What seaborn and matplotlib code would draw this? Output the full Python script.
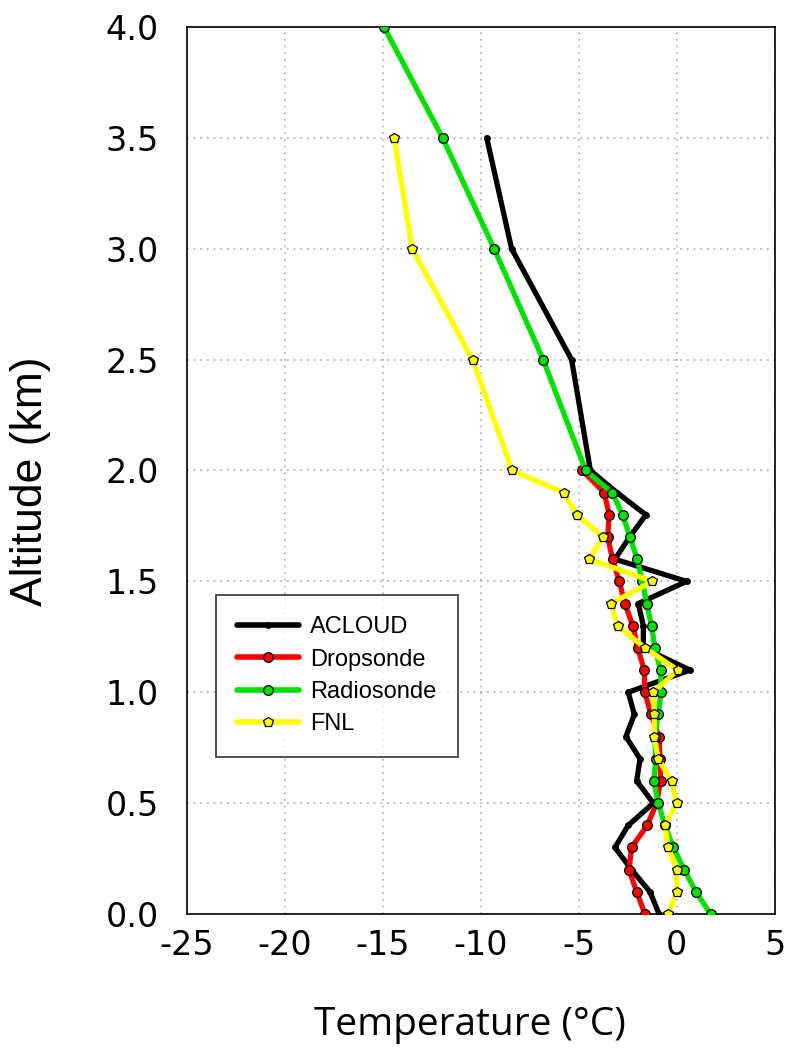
import matplotlib
matplotlib.use("Agg")
import matplotlib.pyplot as plt
import seaborn as sns
import numpy as np
from matplotlib.lines import Line2D

# ---- data ----
alt_low = [0.0, 0.1, 0.2, 0.3, 0.4, 0.5, 0.6, 0.7, 0.8, 0.9, 1.0,
           1.1, 1.2, 1.3, 1.4, 1.5, 1.6, 1.7, 1.8, 1.9, 2.0]
alt_acloud = alt_low + [2.5, 3.0, 3.5]
t_acloud = [-0.90, -1.36, -2.30, -3.15, -2.47, -1.19, -2.04, -1.87, -2.59, -2.16, -2.47,
            0.68, -1.70, -1.70, -1.96, 0.51, -3.15, -2.40, -1.57, -3.04, -4.40,
            -5.36, -8.42, -9.69]
alt_drop = alt_low
t_drop = [-1.62, -2.04, -2.43, -2.30, -1.50, -1.02, -0.82, -0.85, -0.90, -1.31, -1.62,
          -1.65, -1.99, -2.24, -2.64, -2.93, -3.27, -3.52, -3.44, -3.69, -4.82]
alt_radio = alt_low + [2.5, 3.0, 3.5, 4.0]
t_radio = [1.73, 0.98, 0.39, -0.17, -0.60, -0.94, -1.16, -1.07, -1.11, -0.94, -0.80,
           -0.82, -1.11, -1.28, -1.53, -1.75, -2.01, -2.38, -2.76, -3.28, -4.64,
           -6.81, -9.31, -11.94, -14.93]
alt_fnl = alt_low + [2.5, 3.0, 3.5]
t_fnl = [-0.43, 0.00, 0.00, -0.43, -0.60, 0.00, -0.26, -0.94, -1.14, -1.14, -1.19,
         0.05, -1.62, -3.01, -3.35, -1.24, -4.46, -3.74, -5.10, -5.75, -8.39,
         -10.41, -13.49, -14.41]

series_names = ["ACLOUD", "Dropsonde", "Radiosonde", "FNL"]
series_colors = ["#000000", "#ff0000", "#00e000", "#ffff00"]
x_ticks = [-25, -20, -15, -10, -5, 0, 5]
y_ticks = [0.0, 0.5, 1.0, 1.5, 2.0, 2.5, 3.0, 3.5, 4.0]

sns.set_theme(style="white")
plt.rcParams['font.family'] = ['Liberation Sans', 'DejaVu Sans']
plt.rcParams['text.color'] = 'black'
plt.rcParams['axes.labelcolor'] = 'black'
plt.rcParams['xtick.color'] = 'black'
plt.rcParams['ytick.color'] = 'black'

fig = plt.figure(figsize=(7.86, 10.58), dpi=100)
ax = fig.add_axes([0.2374, 0.1361, 0.7482, 0.8384])

data = [(t_acloud, alt_acloud), (t_drop, alt_drop), (t_radio, alt_radio), (t_fnl, alt_fnl)]
handles = []
for (t, a), name, col in zip(data, series_names, series_colors):
    if name == "ACLOUD":
        mk, ms = "o", 4
    elif name == "FNL":
        mk, ms = "p", 7.5
    else:
        mk, ms = "o", 7
    sns.lineplot(x=t, y=a, sort=False, estimator=None, ax=ax, color=col,
                 linewidth=3.8, marker=mk, markersize=ms, markeredgecolor="black",
                 markeredgewidth=0.9, zorder=3 if name != "ACLOUD" else 2.5)
    handles.append(Line2D([0], [0], color=col, lw=4, marker=mk, markersize=ms,
                          markeredgecolor="black", markeredgewidth=0.9, label=name))

ax.set_xlim(-25, 5)
ax.set_ylim(0, 4)
ax.set_xticks(x_ticks)
ax.set_yticks(y_ticks)
ax.set_xticklabels([str(v) for v in x_ticks], fontsize=24, family=["DejaVu Sans"])
ax.set_yticklabels([f"{v:.1f}" for v in y_ticks], fontsize=24, family=["DejaVu Sans"])
ax.grid(True, color="#aaaaaa", linestyle=(0, (1, 3)), linewidth=1.2)
for s in ax.spines.values():
    s.set_color("black")
    s.set_linewidth(1.2)
ax.tick_params(axis="x", direction="out", length=6, width=1.2, color="black", pad=5)
ax.tick_params(axis="y", direction="out", length=0, pad=20)
ax.set_xlabel("Temperature (°C)", fontsize=28, family=["Open Sans", "DejaVu Sans"])
ax.set_ylabel("Altitude (km)", fontsize=32, family=["Liberation Sans", "DejaVu Sans"])
ax.xaxis.label.set_va("center")
ax.yaxis.label.set_va("center")
ax.xaxis.set_label_coords(0.482, -0.125)
ax.yaxis.set_label_coords(-0.266, 0.4876)

leg = ax.legend(handles=handles, loc="upper left", bbox_to_anchor=(0.050, 0.3596),
                fontsize=17, frameon=True, fancybox=False, edgecolor="black",
                handlelength=2.6, borderpad=0.9, labelspacing=0.44, handletextpad=0.5,
                borderaxespad=0)
leg.get_frame().set_linewidth(1.2)

fig.savefig("out.png", dpi=100)
